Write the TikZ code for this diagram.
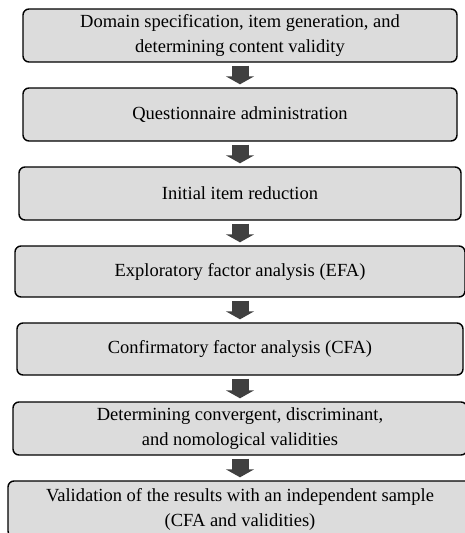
\documentclass[tikz,border=0pt]{standalone}
\usepackage{fontspec}
\setmainfont{Liberation Serif}
\usepackage{tikz}
\usetikzlibrary{arrows.meta, positioning}

\definecolor{boxgray}{HTML}{DCDCDC}
\definecolor{arrowgray}{HTML}{404040}

\tikzset{
  stepbox/.style={draw=black, line width=1.4pt, rounded corners=6pt, fill=boxgray,
    align=center, inner sep=0pt, font=\fontsize{18.5}{25}\selectfont},
  flowarrow/.style={draw=arrowgray, line width=17pt, shorten <=3pt, shorten >=3pt,
    -{Triangle[length=8pt, width=28pt, fill=arrowgray]}}
}

\begin{document}
\begin{tikzpicture}[x=1pt, y=-1pt]
        \useasboundingbox (0,0) rectangle (464,533);

        % Steps
        \node[stepbox, minimum width=434pt, minimum height=53pt] (s1) at (240,35.5)
          {Domain specification, item generation, and\\determining content validity};
        \node[stepbox, minimum width=434pt, minimum height=53pt] (s2) at (240,114.5)
          {Questionnaire administration};
        \node[stepbox, minimum width=442pt, minimum height=53pt] (s3) at (240,193.5)
          {Initial item reduction};
        \node[stepbox, minimum width=450pt, minimum height=51pt] (s4) at (240,271.5)
          {Exploratory factor analysis (EFA)};
        \node[stepbox, minimum width=446pt, minimum height=52pt] (s5) at (240,349)
          {Confirmatory factor analysis (CFA)};
        \node[stepbox, minimum width=454pt, minimum height=53pt] (s6) at (240,428.5)
          {Determining convergent, discriminant,\\and nomological validities};
        \node[stepbox, minimum width=464pt, minimum height=56pt] (s7) at (240,509)
          {Validation of the results with an independent sample\\(CFA and validities)};

        % Arrows
        \foreach \a/\b in {s1/s2, s2/s3, s3/s4, s4/s5, s5/s6, s6/s7}
          \draw[flowarrow] (\a) -- (\b);
\end{tikzpicture}
\end{document}
